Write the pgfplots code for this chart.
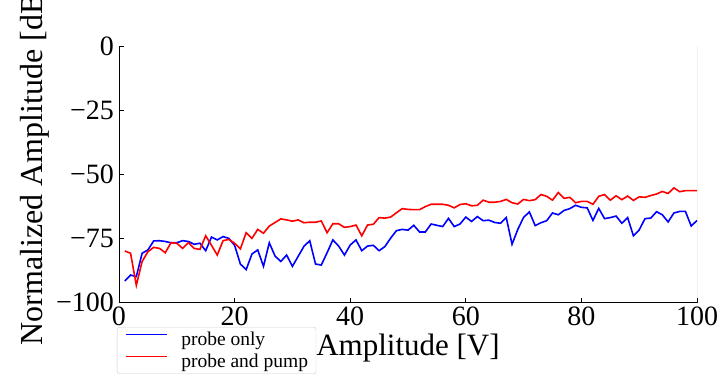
\documentclass[border=0pt]{standalone}
\usepackage{fontspec}
\setmainfont{Liberation Serif}
\usepackage{pgfplots}
\pgfplotsset{compat=1.18}
\usepackage{pgfplotstable}

\pgfplotstableread{
x y
1 -91.6
2 -89.3
3 -89.9
4 -80.8
5 -79.5
6 -76.0
7 -75.9
8 -76.2
9 -76.7
10 -76.7
11 -75.9
12 -76.2
13 -77.3
14 -76.9
15 -79.8
16 -74.5
17 -75.6
18 -74.3
19 -75.0
20 -77.7
21 -85.0
22 -87.2
23 -81.1
24 -79.5
25 -85.9
26 -76.7
27 -81.9
28 -84.0
29 -81.5
30 -85.9
31 -82.0
32 -78.1
33 -75.9
34 -85.0
35 -85.4
36 -80.6
37 -75.6
38 -78.0
39 -81.5
40 -77.6
41 -75.6
42 -79.8
43 -78.0
44 -77.7
45 -79.8
46 -78.2
47 -74.9
48 -72.0
49 -71.5
50 -71.8
51 -69.9
52 -72.5
53 -72.5
54 -69.4
55 -69.9
56 -70.4
57 -67.2
58 -70.4
59 -69.4
60 -66.7
61 -68.4
62 -66.5
63 -68.1
64 -67.9
65 -68.8
66 -69.1
67 -66.9
68 -77.3
69 -71.5
70 -66.8
71 -64.7
72 -70.0
73 -68.9
74 -68.1
75 -65.1
76 -65.8
77 -64.1
78 -63.4
79 -62.1
80 -62.9
81 -63.1
82 -68.0
83 -63.3
84 -67.3
85 -66.9
86 -66.3
87 -69.1
88 -66.9
89 -74.0
90 -71.7
91 -67.3
92 -67.1
93 -64.6
94 -65.8
95 -68.6
96 -65.1
97 -64.5
98 -64.5
99 -70.2
100 -68.0
}\probeonly

\pgfplotstableread{
x y
1 -79.9
2 -80.8
3 -93.3
4 -84.0
5 -80.2
6 -78.5
7 -78.9
8 -80.6
9 -76.7
10 -76.9
11 -78.9
12 -76.7
13 -78.9
14 -79.3
15 -74.0
16 -77.7
17 -81.5
18 -75.9
19 -75.4
20 -76.9
21 -79.1
22 -72.8
23 -75.0
24 -71.5
25 -73.0
26 -70.2
27 -68.8
28 -67.4
29 -67.8
30 -68.3
31 -67.8
32 -68.9
33 -68.7
34 -68.7
35 -68.2
36 -72.8
37 -69.3
38 -69.3
39 -70.7
40 -70.4
41 -69.8
42 -74.0
43 -69.8
44 -69.5
45 -66.9
46 -67.1
47 -66.7
48 -65.0
49 -63.4
50 -63.7
51 -63.8
52 -63.8
53 -62.6
54 -61.7
55 -61.7
56 -61.7
57 -62.1
58 -63.1
59 -61.8
60 -61.5
61 -62.3
62 -62.1
63 -60.1
64 -60.9
65 -60.9
66 -60.6
67 -59.8
68 -61.1
69 -61.6
70 -59.8
71 -60.3
72 -59.9
73 -57.9
74 -58.6
75 -60.1
76 -57.1
77 -59.4
78 -59.0
79 -61.1
80 -60.6
81 -60.6
82 -61.7
83 -58.6
84 -57.9
85 -60.1
86 -58.4
87 -59.9
88 -58.5
89 -60.2
90 -58.8
91 -59.0
92 -58.3
93 -57.7
94 -56.7
95 -57.5
96 -55.3
97 -56.8
98 -56.4
99 -56.4
100 -56.4
}\probepump

\begin{document}
\begin{tikzpicture}
\useasboundingbox (-119pt,-73.5pt) rectangle (604pt,302.5pt);
\clip (-119pt,-73.5pt) rectangle (604pt,302.5pt);
\begin{axis}[
  at={(0pt,0pt)}, anchor=south west,
  scale only axis,
  width=578pt, height=256.5pt,
  xmin=0, xmax=100, ymin=-100, ymax=0,
  enlargelimits=false,
  axis lines*=left,
  axis line style={line width=0.8pt, black},
  xtick={0,20,40,60,80,100},
  ytick={-100,-75,-50,-25,0},
  yticklabels={−100,−75,−50,−25,0},
  tick align=inside,
  major tick length=5pt,
  tick style={black, line width=0.8pt},
  ticklabel style={font=\fontsize{28}{32}\selectfont, inner sep=0pt},
  xticklabel style={anchor=north, yshift=-4pt},
  yticklabel style={anchor=east, xshift=-5pt},
  /pgf/number format/assume math mode=true,
  xlabel={Amplitude [V]},
  ylabel={Normalized Amplitude [dB]},
  xlabel style={font=\fontsize{31}{36}\selectfont, at={(axis description cs:0.5,-0.2047)}, anchor=base, inner sep=0pt},
  ylabel style={font=\fontsize{32}{37}\selectfont, at={(axis description cs:-0.1315,0.54)}, anchor=base, inner sep=0pt},
  legend style={at={(axis description cs:-0.00346,-0.0955)}, anchor=north west,
    draw=black!20, rounded corners=2.5pt, fill=white, fill opacity=0.8, text opacity=1,
    font=\fontsize{19.5}{22}\selectfont, inner xsep=8pt, inner ysep=4.5pt,
    row sep=7.5pt, column sep=14pt, nodes={inner sep=0pt}},
  legend cell align=left,
  legend image code/.code={\draw[#1, line width=1.1pt] (0pt,5pt) -- (41pt,5pt);},
]
\addplot[blue, line width=1.6pt] table[x=x,y=y] {\probeonly};
\addlegendentry{probe only}
\addplot[red, line width=1.6pt] table[x=x,y=y] {\probepump};
\addlegendentry{probe and pump}
\draw[black!45, line width=0.8pt] (rel axis cs:1,0) -- (rel axis cs:1,1);
\end{axis}
\end{tikzpicture}
\end{document}
